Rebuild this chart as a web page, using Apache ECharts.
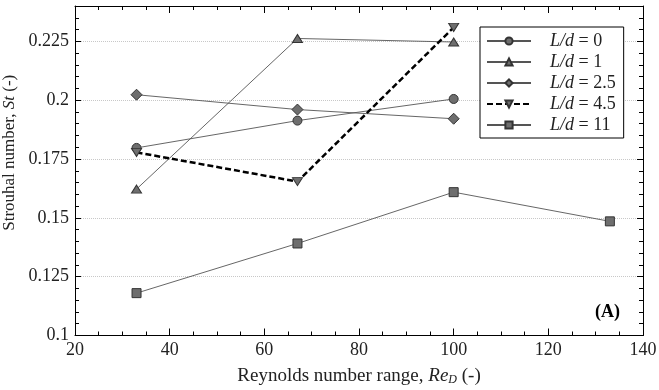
<!DOCTYPE html>
<html>
<head>
<meta charset="utf-8">
<script src="https://cdn.jsdelivr.net/npm/echarts@6/dist/echarts.min.js"></script>
<style>html,body{margin:0;padding:0;background:#fff}#c{width:659px;height:390px}</style>
</head>
<body>
<div id="c"></div>
<script>
// ---- data ----
const reynolds = [33, 67, 100, 133];
const seriesNames = ['L/d = 0', 'L/d = 1', 'L/d = 2.5', 'L/d = 4.5', 'L/d = 11'];
const st_Ld0   = [0.1797, 0.1913, 0.2005, null];
const st_Ld1   = [0.1622, 0.2262, 0.2247, null];
const st_Ld2_5 = [0.2023, 0.1960, 0.1921, null];
const st_Ld4_5 = [0.1778, 0.1654, 0.2309, null];
const st_Ld11  = [0.1180, 0.1391, 0.1609, 0.1485];
const yTickLabels = ['0.1', '0.125', '0.15', '0.175', '0.2', '0.225'];
const xTickLabels = ['20', '40', '60', '80', '100', '120', '140'];
const panelLabel = '(A)';

// ---- styles ----
const FONT = 'Liberation Serif';
const TXT = '#222';
const fill = '#6e6e6e';
const edge = '#333';
const downTri = 'path://M0,0L20,0L10,15Z';
const upTri = 'path://M10,0L20,15L0,15Z';

function pairs(vals) {
  const out = [];
  vals.forEach((v, i) => { if (v !== null) out.push([reynolds[i], v]); });
  return out;
}
const allVals = [st_Ld0, st_Ld1, st_Ld2_5, st_Ld4_5, st_Ld11];
const symbols = ['circle', upTri, 'diamond', downTri, 'rect'];
const sizes = [[9, 9], [10, 8], [11, 11], [10, 8], [9, 9]];

const series = allVals.map((vals, k) => {
  const dashed = k === 3;
  return {
    name: seriesNames[k],
    type: 'line',
    data: pairs(vals),
    symbol: symbols[k],
    symbolSize: sizes[k],
    showAllSymbol: true,
    z: dashed ? 3 : 2,
    lineStyle: dashed ? { color: '#000', width: 2.5, type: [6, 3] } : { color: '#555', width: 0.9 },
    itemStyle: { color: fill, borderColor: edge, borderWidth: 1 },
    emphasis: { disabled: true },
    animation: false
  };
});

const chart = echarts.init(document.getElementById('c'), null, { renderer: 'canvas' });
const baseY = {
  type: 'value', min: 0.1, max: 0.24, interval: 0.025,
  axisLine: { show: true, lineStyle: { color: '#000', width: 1 } },
  axisTick: { show: true, inside: true, length: 6, lineStyle: { color: '#000' } },
  minorTick: { show: true, splitNumber: 5, length: 4, lineStyle: { color: '#000' } },
};
const baseX = {
  type: 'value', min: 20, max: 140, interval: 20,
  axisLine: { show: true, onZero: false, lineStyle: { color: '#000', width: 1 } },
  axisTick: { show: true, inside: true, length: 7, lineStyle: { color: '#000' } },
  minorTick: { show: true, splitNumber: 4, length: 4, lineStyle: { color: '#000' } },
  splitLine: { show: false }
};

chart.setOption({
  animation: false,
  backgroundColor: '#fff',
  textStyle: { fontFamily: FONT, color: TXT },
  grid: { left: 75, right: 16, top: 6, bottom: 54.5, containLabel: false, outerBoundsMode: 'none' },
  xAxis: [
    Object.assign({}, baseX, {
      position: 'bottom',
      name: '{n|Reynolds number range, }{i|Re}{s|D}{n| (-)}',
      nameLocation: 'middle', nameGap: 31,
      nameTextStyle: {
        rich: {
          n: { fontFamily: FONT, fontSize: 19, color: TXT },
          i: { fontFamily: FONT, fontSize: 19, fontStyle: 'italic', color: TXT },
          s: { fontFamily: FONT, fontSize: 12, fontStyle: 'italic', color: TXT, verticalAlign: 'bottom', padding: [7, 0, 0, 0] }
        }
      },
      axisLabel: {
        fontFamily: FONT, fontSize: 18, color: TXT, margin: 6,
        formatter: v => { const i = Math.round((v - 20) / 20); return xTickLabels[i] || ''; }
      }
    }),
    Object.assign({}, baseX, { position: 'top', axisLabel: { show: false } })
  ],
  yAxis: [
    Object.assign({}, baseY, {
      position: 'left',
      name: '{n|Strouhal number, }{i|St}{n| (-)}',
      nameLocation: 'middle', nameGap: 38,
      nameTextStyle: {
        padding: [0, 0, 0, 36],
        rich: {
          n: { fontFamily: FONT, fontSize: 17, color: TXT },
          i: { fontFamily: FONT, fontSize: 17, fontStyle: 'italic', color: TXT }
        }
      },
      axisLabel: {
        fontFamily: FONT, fontSize: 18, color: TXT, margin: 6,
        formatter: v => { const i = Math.round((v - 0.1) / 0.025); return v > 0.23 ? '' : (yTickLabels[i] || ''); }
      },
      splitLine: { show: true, lineStyle: { color: '#c8c8c8', width: 1, type: [1, 1] } }
    }),
    Object.assign({}, baseY, { position: 'right', axisLabel: { show: false }, splitLine: { show: false } })
  ],
  legend: {
    orient: 'vertical', left: 480, top: 27,
    data: seriesNames,
    backgroundColor: '#fff', borderColor: '#000', borderWidth: 1,
    padding: [5, 8, 4, 6],
    itemWidth: 44, itemHeight: 9, itemGap: 3,
    selectedMode: false,
    formatter: name => '{i|L/d}{n| = ' + name.split('= ')[1] + '}',
    textStyle: {
      padding: [0, 0, 0, 14],
      rich: {
        i: { fontFamily: FONT, fontSize: 18, fontStyle: 'italic', color: TXT, lineHeight: 17 },
        n: { fontFamily: FONT, fontSize: 18, color: TXT, lineHeight: 17 }
      }
    }
  },
  graphic: [{
    type: 'text', right: 39, top: 303,
    style: { text: panelLabel, font: 'bold 18px "' + FONT + '"', fill: '#000' }
  }],
  series: series
});
</script>
</body>
</html>
